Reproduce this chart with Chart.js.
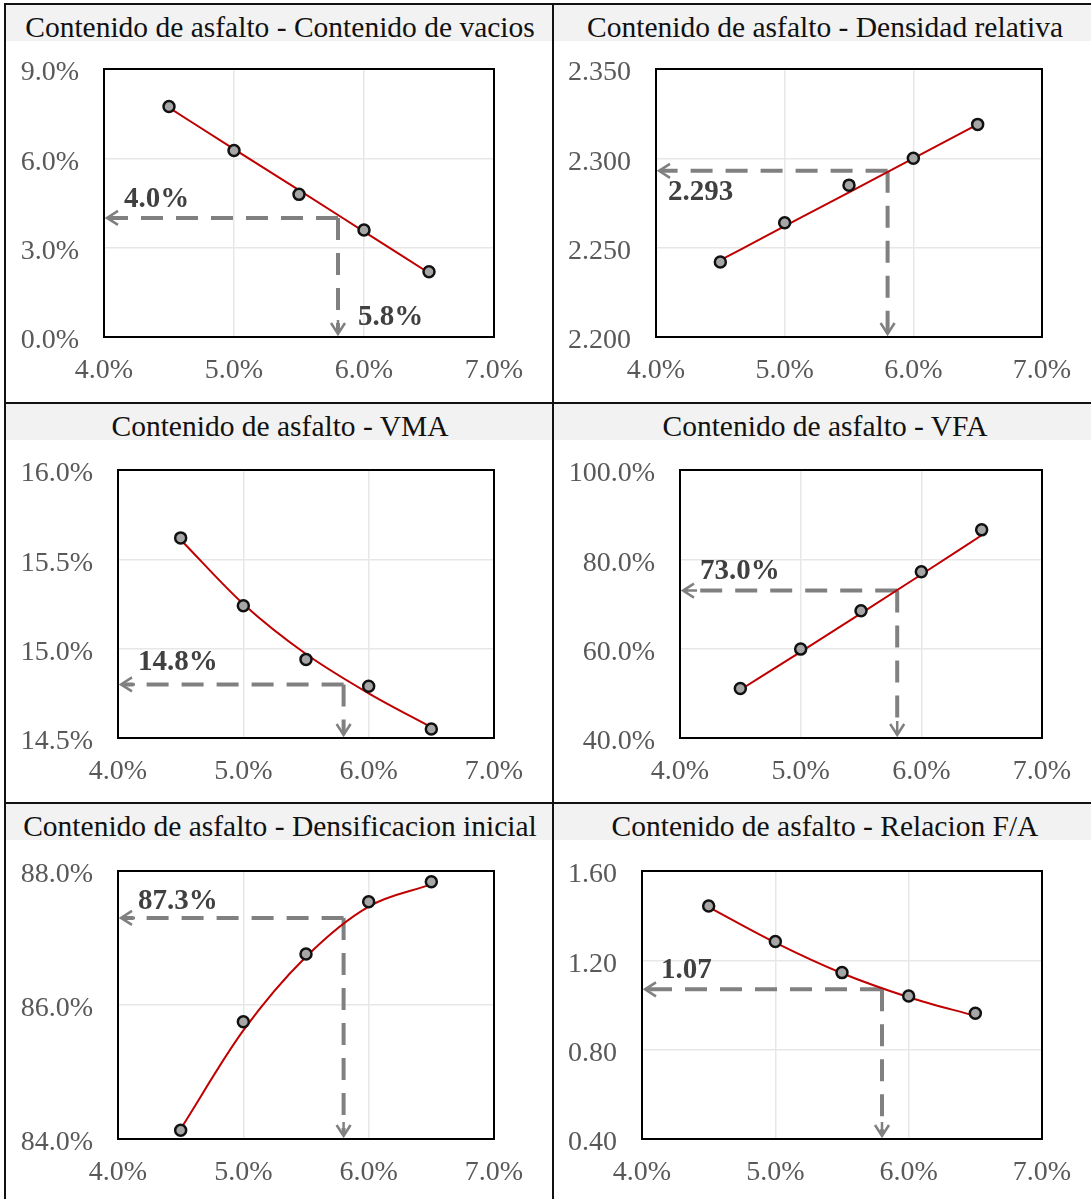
<!DOCTYPE html>
<html>
<head>
<meta charset="utf-8">
<script src="https://cdn.jsdelivr.net/npm/chart.js@4.4.1/dist/chart.umd.min.js"></script>
<style>
  html, body { margin: 0; padding: 0; background: #fff; }
  #sheet { position: relative; width: 1091px; height: 1199px; overflow: hidden;
           font-family: "Liberation Serif", "Times New Roman", serif; }
  .title { position: absolute; background: #f2f2f2; color: #111; font-size: 29.5px;
           line-height: 36px; height: 36px; white-space: nowrap; }
  .title span { position: absolute; top: 4px; transform: translateX(-50%); }
  .rule { position: absolute; background: #111; }
  canvas { position: absolute; }
</style>
</head>
<body>
<div id="sheet"></div>
<script>
// ---- Mix design results: asphalt content (%) vs. measured properties ----
const asphaltContent = [4.5, 5.0, 5.5, 6.0, 6.5];
const xTicks = [4, 5, 6, 7];
const optimumContent = 5.8;

const airVoids      = [7.74, 6.26, 4.79, 3.59, 2.19];
const airVoidsTrend = [7.70, 6.31, 4.93, 3.54, 2.15];
const airVoidsTicks = [0, 3, 6, 9];
const airVoidsAtOpt = 4.0;

const density      = [2.242, 2.264, 2.285, 2.300, 2.319];
const densityTrend = [2.243, 2.262, 2.281, 2.300, 2.319];
const densityTicks = [2.200, 2.250, 2.300, 2.350];
const densityAtOpt = 2.293;

const vma      = [15.62, 15.24, 14.94, 14.79, 14.55];
const vmaTrend = [15.61, 15.25, 14.97, 14.75, 14.56];
const vmaTicks = [14.5, 15.0, 15.5, 16.0];
const vmaAtOpt = 14.8;

const vfa      = [51.1, 59.9, 68.5, 77.2, 86.6];
const vfaTrend = [50.8, 59.3, 67.9, 76.6, 85.4];
const vfaTicks = [40, 60, 80, 100];
const vfaAtOpt = 73.0;

const initialDensification      = [84.13, 85.75, 86.76, 87.54, 87.84];
const initialDensificationTrend = [84.15, 85.62, 86.72, 87.47, 87.80];
const initialDensificationTicks = [84, 86, 88];
const initialDensificationAtOpt = 87.3;

const dustBinder      = [1.443, 1.284, 1.145, 1.040, 0.963];
const dustBinderTrend = [1.438, 1.279, 1.142, 1.035, 0.951];
const dustBinderTicks = [0.40, 0.80, 1.20, 1.60];
const dustBinderAtOpt = 1.07;

const titles = [
  'Contenido de asfalto - Contenido de vacios',
  'Contenido de asfalto - Densidad relativa',
  'Contenido de asfalto - VMA',
  'Contenido de asfalto - VFA',
  'Contenido de asfalto - Densificacion inicial',
  'Contenido de asfalto - Relacion F/A'
];

// ---- formatting ----
const pct1 = v => v.toFixed(1) + '%';
const fix3 = v => v.toFixed(3);
const fix2 = v => v.toFixed(2);

// ---- panel definitions ----
const panels = [
  { values: airVoids, trend: airVoidsTrend, ticks: airVoidsTicks, fmt: pct1, read: airVoidsAtOpt,
    cell: { x: 6, y: 5, w: 546, h: 397 }, plot: { l: 104, t: 69, r: 494, b: 337 },
    labelDx: 20, labelDy: -18, showOptLabel: true },
  { values: density, trend: densityTrend, ticks: densityTicks, fmt: fix3, read: densityAtOpt,
    cell: { x: 554, y: 5, w: 537, h: 397 }, plot: { l: 656, t: 69, r: 1042, b: 337 },
    labelDx: 12, labelDy: 22 },
  { values: vma, trend: vmaTrend, ticks: vmaTicks, fmt: pct1, read: vmaAtOpt,
    cell: { x: 6, y: 404, w: 546, h: 398 }, plot: { l: 118, t: 470, r: 494, b: 738 },
    labelDx: 20, labelDy: -22 },
  { values: vfa, trend: vfaTrend, ticks: vfaTicks, fmt: pct1, read: vfaAtOpt,
    cell: { x: 554, y: 404, w: 537, h: 398 }, plot: { l: 680, t: 470, r: 1042, b: 738 },
    labelDx: 20, labelDy: -19 },
  { values: initialDensification, trend: initialDensificationTrend, ticks: initialDensificationTicks,
    fmt: pct1, read: initialDensificationAtOpt,
    cell: { x: 6, y: 804, w: 546, h: 395 }, plot: { l: 118, t: 871, r: 494, b: 1139 },
    labelDx: 20, labelDy: -16 },
  { values: dustBinder, trend: dustBinderTrend, ticks: dustBinderTicks, fmt: fix2, read: dustBinderAtOpt,
    cell: { x: 554, y: 804, w: 537, h: 395 }, plot: { l: 642, t: 871, r: 1042, b: 1139 },
    labelDx: 19, labelDy: -19 }
];

const TITLE_H = 36;
const TITLE_CENTER = [280, 825];
const FONT = '"Liberation Serif", "Times New Roman", serif';
const GUIDE = '#808080';
const CLEAR = 'rgba(0,0,0,0)';
// value labels sit a few pixels below their gridline: an empty leading line of this height nudges them down
const Y_LABEL_NUDGE = 8;

// frame drawn around the plotting area
const plotFrame = {
  id: 'plotFrame',
  afterDatasetsDraw(chart) {
    const { ctx, chartArea: a } = chart;
    ctx.save();
    ctx.strokeStyle = '#000';
    ctx.lineWidth = 2;
    ctx.strokeRect(a.left, a.top, a.right - a.left, a.bottom - a.top);
    ctx.restore();
  }
};

function drawArrowHead(ctx, x, y, dir) {
  const len = 11, half = 7;
  ctx.save();
  ctx.setLineDash([]);
  ctx.lineWidth = 2.5;
  ctx.strokeStyle = GUIDE;
  ctx.beginPath();
  if (dir === 'left') {
    ctx.moveTo(x + len, y - half); ctx.lineTo(x, y); ctx.lineTo(x + len, y + half);
    ctx.moveTo(x, y); ctx.lineTo(x + 14, y);
  } else {
    ctx.moveTo(x - half, y - len); ctx.lineTo(x, y); ctx.lineTo(x + half, y - len);
    ctx.moveTo(x, y); ctx.lineTo(x, y - 14);
  }
  ctx.stroke();
  ctx.restore();
}

// dashed read-off guides at the optimum asphalt content
const readOff = {
  id: 'readOff',
  beforeDatasetsDraw(chart, args, opts) {
    const { ctx, chartArea: a, scales: { x, y } } = chart;
    const px = x.getPixelForValue(optimumContent);
    const py = y.getPixelForValue(opts.read);
    ctx.save();
    ctx.strokeStyle = GUIDE;
    ctx.lineWidth = 4;
    ctx.setLineDash([22, 13]);
    ctx.beginPath();
    ctx.moveTo(px, py); ctx.lineTo(a.left + 4, py);
    ctx.stroke();
    ctx.beginPath();
    ctx.moveTo(px, py); ctx.lineTo(px, a.bottom - 4);
    ctx.stroke();
    ctx.restore();
    drawArrowHead(ctx, a.left + 3, py, 'left');
    drawArrowHead(ctx, px, a.bottom - 3, 'down');
  },
  afterDatasetsDraw(chart, args, opts) {
    const { ctx, chartArea: a, scales: { x, y } } = chart;
    const px = x.getPixelForValue(optimumContent);
    const py = y.getPixelForValue(opts.read);
    ctx.save();
    ctx.fillStyle = '#404040';
    ctx.font = 'bold 29px ' + FONT;
    ctx.textAlign = 'left';
    ctx.textBaseline = 'middle';
    ctx.fillText(opts.text, a.left + opts.dx, py + opts.dy);
    if (opts.optText) ctx.fillText(opts.optText, px + 20, a.bottom - 19);
    ctx.restore();
  }
};

const sheet = document.getElementById('sheet');

function addRule(x, y, w, h) {
  const d = document.createElement('div');
  d.className = 'rule';
  Object.assign(d.style, { left: x + 'px', top: y + 'px', width: w + 'px', height: h + 'px' });
  sheet.appendChild(d);
}

panels.forEach((p, i) => {
  // title strip
  const t = document.createElement('div');
  t.className = 'title';
  Object.assign(t.style, { left: p.cell.x + 'px', top: p.cell.y + 'px', width: p.cell.w + 'px' });
  const s = document.createElement('span');
  s.textContent = titles[i];
  s.style.left = (TITLE_CENTER[i % 2] - p.cell.x) + 'px';
  t.appendChild(s);
  sheet.appendChild(t);

  // chart canvas
  const cx = p.cell.x, cy = p.cell.y + TITLE_H, cw = p.cell.w, ch = p.cell.h - TITLE_H;
  const cv = document.createElement('canvas');
  cv.width = cw; cv.height = ch;
  Object.assign(cv.style, { left: cx + 'px', top: cy + 'px', width: cw + 'px', height: ch + 'px' });
  sheet.appendChild(cv);

  const yAxisW = p.plot.l - cx;
  const xAxisH = cy + ch - p.plot.b;
  const yMin = p.ticks[0], yMax = p.ticks[p.ticks.length - 1];

  new Chart(cv, {
    type: 'line',
    data: {
      datasets: [
        {
          data: asphaltContent.map((v, k) => ({ x: v, y: p.values[k] })),
          showLine: false,
          pointRadius: 5.5,
          pointBorderWidth: 2.5,
          pointBackgroundColor: '#a6a6a6',
          pointBorderColor: '#111',
          order: 0
        },
        {
          data: asphaltContent.map((v, k) => ({ x: v, y: p.trend[k] })),
          borderColor: '#c00000',
          borderWidth: 2,
          pointRadius: 0,
          cubicInterpolationMode: 'monotone',
          fill: false,
          order: 1
        }
      ]
    },
    options: {
      responsive: false,
      animation: false,
      devicePixelRatio: 1,
      layout: { padding: { left: 0, top: p.plot.t - cy, right: cx + cw - p.plot.r, bottom: 0 } },
      plugins: {
        legend: { display: false },
        tooltip: { enabled: false },
        readOff: { read: p.read, text: p.fmt(p.read), dx: p.labelDx, dy: p.labelDy,
                   optText: p.showOptLabel ? pct1(optimumContent) : null }
      },
      scales: {
        x: {
          type: 'linear', min: xTicks[0], max: xTicks[xTicks.length - 1],
          afterBuildTicks: sc => { sc.ticks = xTicks.map(v => ({ value: v })); },
          afterFit: sc => { sc.height = xAxisH; },
          border: { display: false },
          grid: { color: '#e7e7e7', lineWidth: 1.5, drawTicks: true, tickLength: 17, tickColor: CLEAR },
          ticks: { color: '#595959', font: { family: FONT, size: 28 }, padding: 0,
                   maxRotation: 0, callback: v => pct1(v) }
        },
        y: {
          type: 'linear', min: yMin, max: yMax,
          afterBuildTicks: sc => { sc.ticks = p.ticks.map(v => ({ value: v })); },
          afterFit: sc => { sc.width = yAxisW; },
          border: { display: false },
          grid: { color: '#e7e7e7', lineWidth: 1.5, drawTicks: true, tickLength: 25, tickColor: CLEAR },
          ticks: { color: '#595959', font: { family: FONT, size: 28, lineHeight: Y_LABEL_NUDGE + 'px' },
                   padding: 0, callback: v => ['', p.fmt(v)] }
        }
      }
    },
    plugins: [readOff, plotFrame]
  });
});

// cell rules
addRule(4, 3, 1087, 2);
addRule(4, 3, 2, 1196);
addRule(552, 3, 2, 1196);
addRule(4, 402, 1087, 2);
addRule(4, 802, 1087, 2);
</script>
</body>
</html>
